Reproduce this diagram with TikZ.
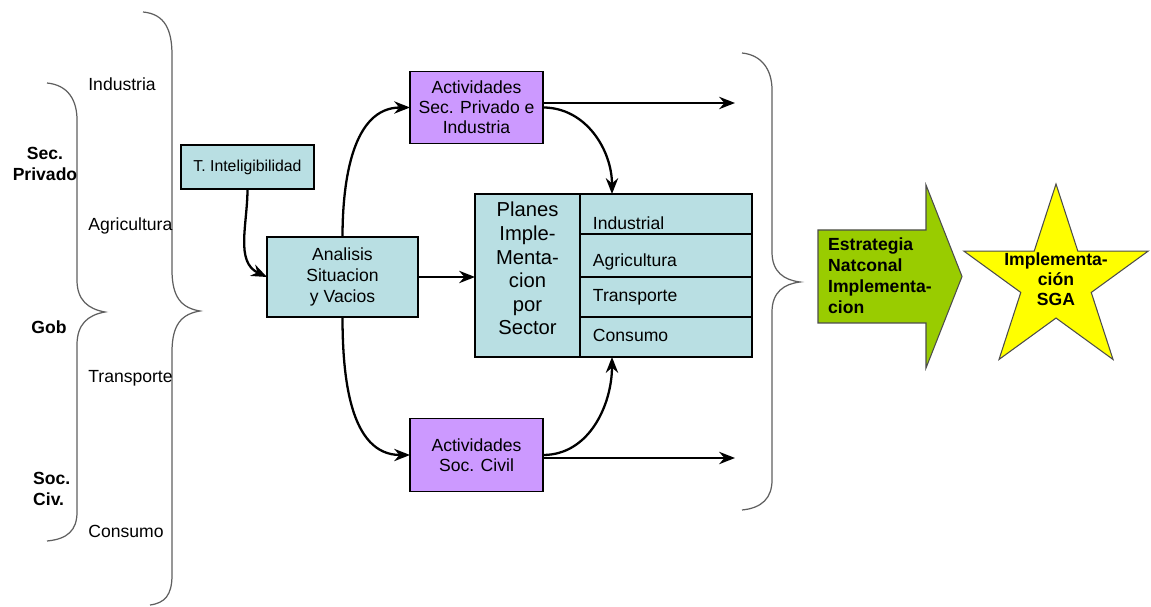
\documentclass[tikz,border=0pt]{standalone}
\usepackage{fontspec}
\setmainfont{Liberation Sans}
\usetikzlibrary{arrows.meta,positioning,shapes.geometric}
\definecolor{boxcyan}{RGB}{185,223,227}
\definecolor{boxlila}{RGB}{204,153,255}
\definecolor{arrgreen}{RGB}{153,204,0}
\definecolor{staryellow}{RGB}{255,255,0}
\definecolor{bracegray}{RGB}{95,95,95}

\begin{document}
\begin{tikzpicture}[x=0.02cm,y=0.02cm,font=\fontsize{10}{11.5}\selectfont,
  b/.style={draw,line width=0.8pt,fill=boxcyan,align=center,inner sep=0pt,outer sep=0pt},
  act/.style={b,fill=boxlila,minimum width=2.66cm,minimum height=1.45cm},
  fila/.style={b,minimum width=3.44cm,minimum height=0.8cm,text width=2.92cm,align=left,
    inner xsep=0.26cm,text height=7.5pt,text depth=2pt},
  flecha/.style={line width=1.3pt,-{Stealth[length=9pt,width=7pt]}},
  llave/.style={bracegray,line width=0.7pt},
  sect/.style={anchor=west,inner sep=0pt},
  lbl/.style={font=\fontsize{10}{12}\selectfont\bfseries,align=center}]
\useasboundingbox (0,0) rectangle (1151,-607);

% braces
\draw[llave] (143,-12) .. controls (165,-14) and (172,-30) .. (172,-55) -- (172,-270)
  .. controls (172,-298) and (182,-308) .. (200,-311) .. controls (182,-314) and (172,-324) .. (172,-352)
  -- (172,-575) .. controls (172,-595) and (165,-603) .. (150,-605);
\draw[llave] (47,-83) .. controls (68,-85) and (77,-100) .. (77,-120) -- (77,-280)
  .. controls (77,-300) and (88,-309) .. (105,-312) .. controls (88,-315) and (77,-324) .. (77,-345)
  -- (77,-512) .. controls (77,-530) and (68,-539) .. (47,-541);
\draw[llave] (742,-53) .. controls (762,-55) and (772,-70) .. (772,-90) -- (772,-252)
  .. controls (772,-272) and (784,-280) .. (800,-282) .. controls (784,-284) and (772,-292) .. (772,-312)
  -- (772,-480) .. controls (772,-498) and (762,-508) .. (742,-510);

% actores y sectores
\node[lbl] (secpriv) at (45,-164) {Sec.\\Privado};
\node[lbl] (gob) at (49,-327) {Gob};
\node[lbl,align=left,anchor=west] (socciv) at (27,-489) {Soc.\\Civ.};
\node[sect] (ind) at (88,-84) {Industria};
\node[sect] (agr) at (88,-226) {Agricultura};
\node[sect] (tra) at (88,-378) {Transporte};
\node[sect] (con) at (88,-531) {Consumo};

% cajas
\node[b,minimum width=2.66cm,minimum height=0.88cm,font=\fontsize{9}{11}\selectfont]
  (tint) at (247.5,-167) {T. Inteligibilidad};
\node[b,minimum width=3.02cm,minimum height=1.6cm,font=\fontsize{10}{12}\selectfont]
  (anal) at (342.5,-277) {Analisis\\Situacion\\y Vacios};
\node[act] (apriv) at (476.5,-107.5) {Actividades\\Sec. Privado e\\Industria};
\node[act] (aciv) at (476.5,-455) {Actividades\\Soc. Civil};

\node[b,minimum width=2.1cm,minimum height=3.26cm,font=\fontsize{11.5}{13.4}\selectfont,text depth=8pt]
  (plan) at (527.5,-275.5) {Planes\\Imple-\\Menta-\\cion\\por\\Sector};
\node[fila,right=0pt of plan.north east,anchor=north west,text height=18pt,text depth=0pt] (r1) {Industrial};
\node[fila,below=0pt of r1,minimum height=0.86cm,text height=15pt] (r2) {Agricultura};
\node[fila,below=0pt of r2] (r3) {Transporte};
\node[fila,below=0pt of r3] (r4) {Consumo};

\coordinate (ptop) at ([xshift=0.64cm]r1.north west);
\coordinate (pbot) at ([xshift=0.64cm]r4.south west);
\coordinate (fpriv) at (735,-103);
\coordinate (fciv) at (735,-458);

% flechas
\draw[flecha] (tint.south) to[out=-90,in=155] (anal.west);
\draw[flecha] (anal.north) to[out=90,in=180] (apriv.west);
\draw[flecha] (anal.south) to[out=-90,in=180] (aciv.west);
\draw[flecha] (anal.east) -- (anal.east -| plan.west);
\draw[flecha] (apriv.east |- fpriv) -- (fpriv);
\draw[flecha] (apriv.east) to[out=0,in=90] (ptop);
\draw[flecha] (aciv.east |- fciv) -- (fciv);
\draw[flecha] (aciv.east) to[out=0,in=-90] (pbot);

% estrategia y meta
\draw[fill=arrgreen,draw=black!70,line width=0.6pt] (818,-230) -- (926,-230) -- (926,-185)
  -- (962,-276.5) -- (926,-368) -- (926,-323) -- (818,-323) -- cycle;
\node[lbl,align=left,anchor=west] (estr) at (822,-276) {Estrategia\\Natconal\\Implementa-\\cion};
\node[star,star points=5,star point ratio=2.618,minimum size=3.88cm,inner sep=0pt,
  draw=black!70,line width=0.6pt,fill=staryellow] (sga) at (1056,-281) {};
\node[lbl,font=\fontsize{10}{11.5}\selectfont\bfseries] (sgat) at (1056,-279) {Implementa-\\ción\\SGA};
\end{tikzpicture}
\end{document}
